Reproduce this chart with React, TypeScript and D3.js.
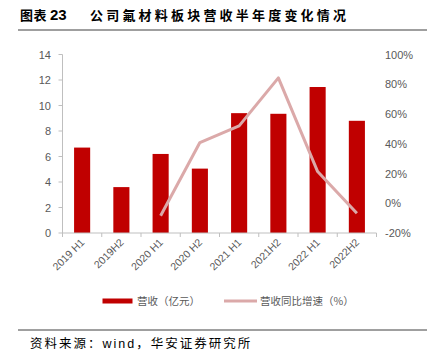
import React from "react";
import * as d3 from "d3";

const categories = ["2019 H1", "2019H2", "2020 H1", "2020 H2", "2021 H1", "2021H2", "2022 H1", "2022H2"];
const revenue = [6.7, 3.6, 6.2, 5.05, 9.4, 9.35, 11.45, 8.8];
const growth: (number | null)[] = [null, null, -8.4, 40.8, 52, 84.3, 21.3, -6.7];
const leftTicks = [0, 2, 4, 6, 8, 10, 12, 14];
const rightTicks = [-20, 0, 20, 40, 60, 80, 100];

const W = 427;
const H = 356;
const plot = { left: 62.5, right: 376.5, top: 54.5, bottom: 233 };
const sans = "'Liberation Sans', Arial, sans-serif";
const cjk = "'Noto Sans CJK SC', sans-serif";

export default function App() {
  const x = d3.scaleBand<string>().domain(categories).range([plot.left, plot.right]).paddingInner(0).paddingOuter(0);
  const yL = d3.scaleLinear().domain([0, 14]).range([plot.bottom, plot.top]);
  const yR = d3.scaleLinear().domain([-20, 100]).range([plot.bottom, plot.top]);
  const bw = x.bandwidth() * 0.41;
  const pts = categories
    .map((c, i) => ({ c, v: growth[i] }))
    .filter((d) => d.v !== null) as { c: string; v: number }[];
  const line = d3
    .line<{ c: string; v: number }>()
    .x((d) => (x(d.c) as number) + x.bandwidth() / 2)
    .y((d) => yR(d.v));
  const tickXs = [...categories.map((c) => x(c) as number), plot.right];

  return (
    <svg width={W} height={H} style={{ position: "absolute", left: 0, top: 0 }}>
      <rect width={W} height={H} fill="#fff" />
      {/* Title */}
      <text x={20} y={20} fontFamily={cjk} fontWeight="bold" fontSize={13} fill="#000">
        <tspan letterSpacing={0.5}>图表</tspan>
        <tspan x={50} fontFamily={sans} fontWeight="bold" fontSize={15}>23</tspan>
        <tspan x={90} letterSpacing={3.2}>公司氟材料板块营收半年度变化情况</tspan>
      </text>
      <line x1={18} x2={427} y1={30} y2={30} stroke="#7f7f7f" strokeWidth={1.5} />

      {/* Left axis */}
      <line x1={plot.left} x2={plot.left} y1={plot.top} y2={plot.bottom} stroke="#bfbfbf" strokeWidth={1} />
      {leftTicks.map((t) => (
        <g key={t}>
          <line x1={plot.left - 4} x2={plot.left} y1={yL(t)} y2={yL(t)} stroke="#bfbfbf" />
          <text x={51} y={yL(t) + 4} textAnchor="end" fontFamily={sans} fontSize={11} fill="#595959">
            {t}
          </text>
        </g>
      ))}
      {/* Right axis labels */}
      {rightTicks.map((t) => (
        <text key={t} x={385} y={yR(t) + 4} textAnchor="start" fontFamily={sans} fontSize={11} fill="#595959">
          {t}%
        </text>
      ))}

      {/* Bars */}
      {categories.map((c, i) => (
        <rect
          key={c}
          x={(x(c) as number) + (x.bandwidth() - bw) / 2}
          y={yL(revenue[i])}
          width={bw}
          height={yL(0) - yL(revenue[i])}
          fill="#c00000"
        />
      ))}

      {/* X axis */}
      <line x1={plot.left} x2={plot.right} y1={plot.bottom} y2={plot.bottom} stroke="#bfbfbf" strokeWidth={1} />
      {tickXs.map((tx, i) => (
        <line key={i} x1={tx} x2={tx} y1={plot.bottom} y2={plot.bottom + 4} stroke="#bfbfbf" />
      ))}
      {categories.map((c) => {
        const cx = (x(c) as number) + x.bandwidth() / 2 + 3;
        const cy = plot.bottom + 10;
        return (
          <text
            key={c}
            transform={`translate(${cx},${cy}) rotate(-45)`}
            textAnchor="end"
            fontFamily={sans}
            fontSize={10.5}
            fill="#595959"
          >
            {c}
          </text>
        );
      })}

      {/* Line */}
      <path d={line(pts) || ""} fill="none" stroke="#dba9a9" strokeWidth={3} strokeLinejoin="round" />

      {/* Legend */}
      <rect x={102.5} y={298.5} width={30} height={5} fill="#c00000" />
      <text x={137} y={305} fontFamily={cjk} fontSize={10.5} fill="#595959">
        营收（亿元）
      </text>
      <line x1={224} x2={257} y1={301} y2={301} stroke="#dba9a9" strokeWidth={3} />
      <text x={260} y={305} fontFamily={cjk} fontSize={10.5} fill="#595959">
        营收同比增速（%）
      </text>

      {/* Footer */}
      <line x1={18} x2={427} y1={330} y2={330} stroke="#404040" strokeWidth={1} />
      <text x={30} y={348} fontFamily={cjk} fontSize={12.5} fill="#000" letterSpacing={2}>
        资料来源：<tspan fontFamily={sans}>wind</tspan>，华安证券研究所
      </text>
    </svg>
  );
}
